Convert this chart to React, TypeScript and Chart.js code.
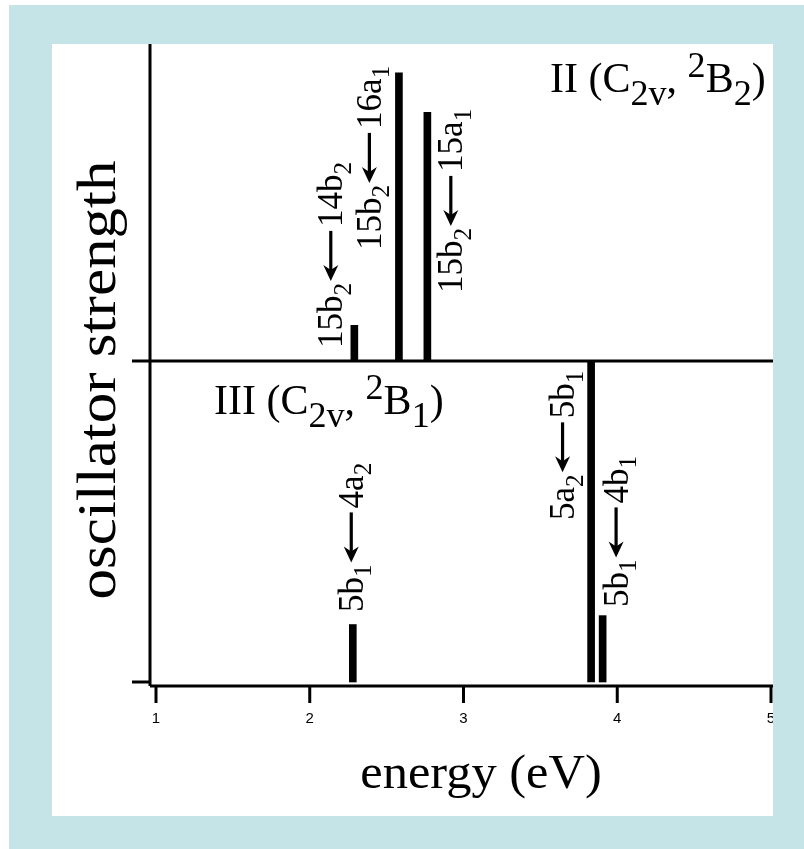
import React, { useEffect, useRef } from 'react';
import { Chart, registerables } from 'chart.js';

Chart.register(...registerables);

// Excitation energies (eV) and oscillator strengths (arb. units)
const energyII = [2.29, 2.58, 2.765];
const strengthII = [0.036, 0.291, 0.251];
const energyIII = [2.28, 3.83, 3.905];
const strengthIII = [0.058, 0.324, 0.067];
const xTicks = [1, 2, 3, 4, 5];

// Transition labels: [final orbital, its symmetry index, initial orbital, its symmetry index]
const transitionsII = [
  ['15b', '2', '14b', '2'],
  ['15b', '2', '16a', '1'],
  ['15b', '2', '15a', '1'],
];
const transitionsIII = [
  ['5b', '1', '4a', '2'],
  ['5a', '2', '5b', '1'],
  ['5b', '1', '4b', '1'],
];

// Label placement: baseline offset from bar centre (px), lift of the label start above the panel baseline (px)
const placeII = [
  [-12, 13],
  [-18, 111],
  [35, 68],
];
const placeIII = [
  [10, 70],
  [-17, 162],
  [25, 75],
];

const SERIF = '"Liberation Serif", "Times New Roman", serif';
const SANS = '"Liberation Sans", Arial, sans-serif';
const FRAME = '#c4e4e7';

// plot area in canvas pixels
const AREA = { left: 150, top: 44, right: 780, bottom: 686 };
const PX_PER_EV = 153.75;
const X_MIN = 1 - (156 - AREA.left) / PX_PER_EV;
const X_MAX = 5 + (AREA.right - 771) / PX_PER_EV;
const PX_PER_F = 317 / 0.32;
const TOP_ZERO = 361;
const BOT_ZERO = 682;

type Run = { text: string; size: number; shift: number };

function drawRuns(ctx: CanvasRenderingContext2D, runs: Run[], x: number, y: number): number {
  let cx = x;
  for (const r of runs) {
    ctx.font = `${r.size}px ${SERIF}`;
    ctx.fillText(r.text, cx, y + r.shift);
    cx += ctx.measureText(r.text).width;
  }
  return cx;
}

function drawTransition(ctx: CanvasRenderingContext2D, t: string[], px: number, py: number, S: number) {
  ctx.save();
  ctx.translate(px, py);
  ctx.rotate(-Math.PI / 2);
  ctx.textBaseline = 'alphabetic';
  ctx.textAlign = 'left';
  const sub = S * 0.72;
  let cx = drawRuns(ctx, [
    { text: t[0], size: S, shift: 0 },
    { text: t[1], size: sub, shift: S * 0.24 },
  ], 0, 0);
  cx += 2;
  const ay = -S * 0.33;
  const len = 50;
  ctx.lineWidth = 3.2;
  ctx.beginPath();
  ctx.moveTo(cx + 10, ay);
  ctx.lineTo(cx + len, ay);
  ctx.stroke();
  ctx.beginPath();
  ctx.moveTo(cx, ay);
  ctx.lineTo(cx + 16, ay - 7.5);
  ctx.lineTo(cx + 11, ay);
  ctx.lineTo(cx + 16, ay + 7.5);
  ctx.closePath();
  ctx.fill();
  cx += len + 4;
  drawRuns(ctx, [
    { text: t[2], size: S, shift: 0 },
    { text: t[3], size: sub, shift: S * 0.24 },
  ], cx, 0);
  ctx.restore();
}

function drawState(ctx: CanvasRenderingContext2D, roman: string, term: string, x: number, y: number, S: number) {
  const s = S * 0.86;
  drawRuns(ctx, [
    { text: `${roman} (C`, size: S, shift: 0 },
    { text: '2v', size: s, shift: S * 0.3 },
    { text: ', ', size: S, shift: 0 },
    { text: '2', size: s, shift: -S * 0.36 },
    { text: 'B', size: S, shift: 0 },
    { text: term, size: s, shift: S * 0.3 },
    { text: ')', size: S, shift: 0 },
  ], x, y);
}

const decorations = {
  id: 'spectrumDecorations',
  afterDraw(chart: any) {
    const ctx: CanvasRenderingContext2D = chart.ctx;
    const { x, yTop, yBot } = chart.scales;
    const area = chart.chartArea;
    ctx.save();
    ctx.fillStyle = '#000';
    ctx.strokeStyle = '#000';
    ctx.lineCap = 'butt';

    const midY = yTop.getPixelForValue(0);
    const lowY = yBot.getPixelForValue(0);

    // y axis
    ctx.lineWidth = 3;
    ctx.beginPath();
    ctx.moveTo(area.left, area.top);
    ctx.lineTo(area.left, area.bottom);
    ctx.stroke();
    // x axis
    ctx.beginPath();
    ctx.moveTo(area.left, area.bottom);
    ctx.lineTo(area.right, area.bottom);
    ctx.stroke();
    // panel divider
    ctx.beginPath();
    ctx.moveTo(area.left - 18, midY);
    ctx.lineTo(area.right, midY);
    ctx.stroke();
    // lower zero tick
    ctx.beginPath();
    ctx.moveTo(area.left - 18, lowY);
    ctx.lineTo(area.left, lowY);
    ctx.stroke();

    // x ticks and labels
    ctx.font = `15px ${SANS}`;
    ctx.textAlign = 'center';
    ctx.textBaseline = 'middle';
    for (const v of xTicks) {
      const px = x.getPixelForValue(v);
      ctx.beginPath();
      ctx.moveTo(px, area.bottom);
      ctx.lineTo(px, area.bottom + 17);
      ctx.stroke();
      ctx.fillText(String(v), px, area.bottom + 33);
    }

    // transition labels
    ctx.textAlign = 'left';
    ctx.textBaseline = 'alphabetic';
    const metaII = chart.getDatasetMeta(0);
    const metaIII = chart.getDatasetMeta(1);
    transitionsII.forEach((t, i) => {
      const bar = metaII.data[i];
      drawTransition(ctx, t, bar.x + placeII[i][0], midY - placeII[i][1], 35);
    });
    transitionsIII.forEach((t, i) => {
      const bar = metaIII.data[i];
      drawTransition(ctx, t, bar.x + placeIII[i][0], lowY - placeIII[i][1], 35);
    });

    // state labels
    drawState(ctx, 'II', '2', 550, 92, 42);
    drawState(ctx, 'III', '1', 214, 414, 42);

    // axis titles
    ctx.font = `54px ${SERIF}`;
    ctx.textAlign = 'center';
    ctx.textBaseline = 'middle';
    ctx.save();
    ctx.translate(101, 380);
    ctx.rotate(-Math.PI / 2);
    ctx.scale(1.13, 1);
    ctx.fillText('oscillator strength', 0, 0);
    ctx.restore();
    ctx.save();
    ctx.font = `49px ${SERIF}`;
    ctx.translate(481, 775);
    ctx.scale(1.03, 1);
    ctx.fillText('energy (eV)', 0, 0);
    ctx.restore();

    ctx.restore();
  },
};

export default function App() {
  const ref = useRef<HTMLCanvasElement>(null);

  useEffect(() => {
    const canvas = ref.current;
    if (!canvas) return;
    const chart = new Chart(canvas, {
      type: 'bar',
      data: {
        datasets: [
          {
            label: 'II',
            data: energyII.map((e, i) => ({ x: e, y: strengthII[i] })),
            yAxisID: 'yTop',
            backgroundColor: '#000',
            borderWidth: 0,
            barThickness: 7,
            grouped: false,
          } as any,
          {
            label: 'III',
            data: energyIII.map((e, i) => ({ x: e, y: strengthIII[i] })),
            yAxisID: 'yBot',
            backgroundColor: '#000',
            borderWidth: 0,
            barThickness: 7,
            grouped: false,
          } as any,
        ],
      },
      options: {
        responsive: false,
        animation: false,
        devicePixelRatio: 1,
        layout: {
          padding: {
            left: AREA.left,
            top: AREA.top,
            right: 804 - AREA.right,
            bottom: 849 - AREA.bottom,
          },
        },
        scales: {
          x: { type: 'linear', min: X_MIN, max: X_MAX, display: false, offset: false },
          yTop: {
            type: 'linear',
            min: -(AREA.bottom - TOP_ZERO) / PX_PER_F,
            max: (TOP_ZERO - AREA.top) / PX_PER_F,
            display: false,
          },
          yBot: {
            type: 'linear',
            min: -(AREA.bottom - BOT_ZERO) / PX_PER_F,
            max: (BOT_ZERO - AREA.top) / PX_PER_F,
            display: false,
          },
        },
        plugins: {
          legend: { display: false },
          tooltip: { enabled: false },
        },
      },
      plugins: [decorations],
    });
    return () => chart.destroy();
  }, []);

  return (
    <div style={{ position: 'absolute', left: 0, top: 0, width: 804, height: 849, background: '#fff', overflow: 'hidden' }}>
      <canvas ref={ref} width={804} height={849} style={{ position: 'absolute', left: 0, top: 0 }} />
      <div style={{ position: 'absolute', left: 9, top: 5, width: 795, height: 39, background: FRAME }} />
      <div style={{ position: 'absolute', left: 9, top: 44, width: 43, height: 772, background: FRAME }} />
      <div style={{ position: 'absolute', left: 773, top: 44, width: 31, height: 772, background: FRAME }} />
      <div style={{ position: 'absolute', left: 9, top: 816, width: 795, height: 33, background: FRAME }} />
    </div>
  );
}
